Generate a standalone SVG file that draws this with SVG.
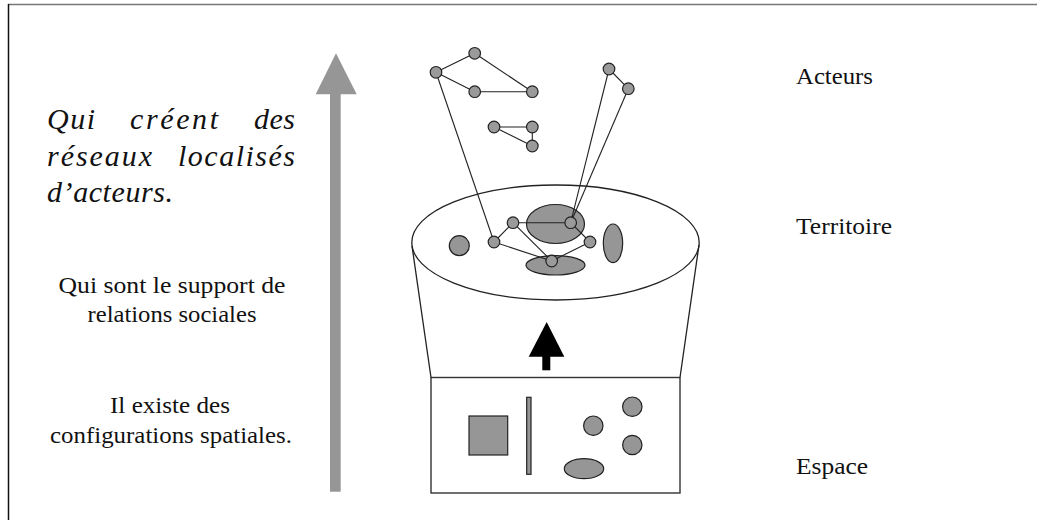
<svg xmlns="http://www.w3.org/2000/svg" width="1037" height="520" viewBox="0 0 1037 520">
  <style>
    .txt { font-family: "Liberation Serif", "DejaVu Serif", serif; fill: #111; }
    .lbl { font-size: 23px; }
    .side { font-size: 23px; text-anchor: middle; }
    .big { font-size: 30px; font-style: italic; }
    .node { fill: #9a9a9a; stroke: #222; stroke-width: 1.2; }
    .shape { fill: #969696; stroke: #222; stroke-width: 1.2; }
    .edge { stroke: #222; stroke-width: 1.1; fill: none; }
    .outline { fill: none; stroke: #222; stroke-width: 1.3; }
  </style>

  <!-- frame -->
  <line x1="8" y1="4.5" x2="1037" y2="4.5" stroke="#777" stroke-width="1.5"/>
  <line x1="8.5" y1="4" x2="8.5" y2="520" stroke="#111" stroke-width="1.5"/>

  <!-- rising grey arrow -->
  <g id="progress-arrow">
    <rect x="330" y="93" width="10.7" height="398.7" fill="#969696"/>
    <polygon points="336,53.3 315.7,94.3 356.7,94.3" fill="#969696"/>
  </g>

  <!-- left-hand captions: justified italic paragraph -->
  <g id="caption-reseaux" class="txt big">
    <text y="129"><tspan x="47" textLength="48" lengthAdjust="spacing">Qui</tspan> <tspan x="130" textLength="88" lengthAdjust="spacing">créent</tspan> <tspan x="254" textLength="41" lengthAdjust="spacing">des</tspan></text>
    <text y="165.5"><tspan x="47" textLength="105" lengthAdjust="spacing">réseaux</tspan> <tspan x="178" textLength="117" lengthAdjust="spacing">localisés</tspan></text>
    <text x="47" y="202" textLength="126" lengthAdjust="spacing">d’acteurs.</text>
  </g>
  <g id="caption-relations" class="txt side">
    <text x="172" y="293" textLength="227" lengthAdjust="spacingAndGlyphs">Qui sont le support de</text>
    <text x="172" y="321.5" textLength="169" lengthAdjust="spacingAndGlyphs">relations sociales</text>
  </g>
  <g id="caption-configurations" class="txt side">
    <text x="170" y="413" textLength="120" lengthAdjust="spacingAndGlyphs">Il existe des</text>
    <text x="171" y="443" textLength="242" lengthAdjust="spacingAndGlyphs">configurations spatiales.</text>
  </g>

  <!-- right-hand level labels -->
  <g id="label-acteurs" class="txt lbl"><text x="796" y="84" textLength="77" lengthAdjust="spacingAndGlyphs">Acteurs</text></g>
  <g id="label-territoire" class="txt lbl"><text x="796" y="234" textLength="96" lengthAdjust="spacingAndGlyphs">Territoire</text></g>
  <g id="label-espace" class="txt lbl"><text x="796" y="474" textLength="72" lengthAdjust="spacingAndGlyphs">Espace</text></g>

  <!-- espace: box with spatial configurations -->
  <g id="espace">
    <rect x="431" y="377.5" width="249" height="115.5" fill="#fff" stroke="#333" stroke-width="1.4"/>
    <rect x="469" y="416" width="38.7" height="39" class="shape"/>
    <rect x="526.7" y="397.3" width="4.3" height="77" class="shape"/>
    <circle cx="593.3" cy="425.7" r="9.7" class="shape"/>
    <circle cx="632.3" cy="406.7" r="9.7" class="shape"/>
    <circle cx="632.3" cy="445" r="9.7" class="shape"/>
    <ellipse cx="584" cy="468.7" rx="19.7" ry="10" class="shape"/>
  </g>

  <!-- black arrow from espace to territoire -->
  <g id="transition-arrow">
    <rect x="542.3" y="355" width="8" height="15.3" fill="#000"/>
    <polygon points="546.7,322 528.7,356.7 564.3,356.7" fill="#000"/>
  </g>

  <!-- territoire: cylinder top with places -->
  <g id="territoire">
    <line x1="412" y1="246" x2="431" y2="377.5" class="outline"/>
    <line x1="699" y1="245" x2="680" y2="377.5" class="outline"/>
    <ellipse cx="555.5" cy="242.5" rx="143.7" ry="57.5" class="outline"/>
    <circle cx="459.3" cy="245.7" r="10" class="shape"/>
    <ellipse cx="555.5" cy="224" rx="29" ry="19.5" class="shape"/>
    <ellipse cx="555.5" cy="265.3" rx="29.5" ry="9.7" class="shape"/>
    <ellipse cx="613" cy="243.3" rx="9.7" ry="19.3" class="shape"/>
  </g>

  <!-- links between actors -->
  <g id="connectors" class="edge">
    <!-- upper network -->
    <line x1="436" y1="72.3" x2="474.7" y2="53.3"/>
    <line x1="474.7" y1="53.3" x2="532.3" y2="91.7"/>
    <line x1="436" y1="72.3" x2="474.7" y2="91.7"/>
    <line x1="474.7" y1="91.7" x2="532.3" y2="91.7"/>
    <!-- triangle -->
    <line x1="494" y1="127" x2="532.3" y2="127"/>
    <line x1="532.3" y1="127" x2="532.3" y2="146"/>
    <line x1="494" y1="127" x2="532.3" y2="146"/>
    <!-- pair -->
    <line x1="609" y1="69" x2="628.3" y2="88.7"/>
    <!-- anchoring into the territory -->
    <line x1="436" y1="72.3" x2="494" y2="242"/>
    <line x1="609" y1="69" x2="570.7" y2="222.7"/>
    <line x1="628.3" y1="88.7" x2="570.7" y2="222.7"/>
    <!-- local network -->
    <line x1="494" y1="242" x2="513" y2="222.7"/>
    <line x1="513" y1="222.7" x2="570.7" y2="222.7"/>
    <line x1="513" y1="222.7" x2="551.7" y2="261"/>
    <line x1="494" y1="242" x2="551.7" y2="261"/>
    <line x1="570.7" y1="222.7" x2="590" y2="242"/>
    <line x1="590" y1="242" x2="551.7" y2="261"/>
  </g>

  <!-- actors -->
  <g id="actor-a"><circle cx="436" cy="72.3" r="5.8" class="node"/></g>
  <g id="actor-b"><circle cx="474.7" cy="53.3" r="5.8" class="node"/></g>
  <g id="actor-c"><circle cx="474.7" cy="91.7" r="5.8" class="node"/></g>
  <g id="actor-d"><circle cx="532.3" cy="91.7" r="5.8" class="node"/></g>
  <g id="actor-e"><circle cx="494" cy="127" r="5.8" class="node"/></g>
  <g id="actor-f"><circle cx="532.3" cy="127" r="5.8" class="node"/></g>
  <g id="actor-g"><circle cx="532.3" cy="146" r="5.8" class="node"/></g>
  <g id="actor-h"><circle cx="609" cy="69" r="5.8" class="node"/></g>
  <g id="actor-i"><circle cx="628.3" cy="88.7" r="5.8" class="node"/></g>
  <g id="actor-j"><circle cx="494" cy="242" r="5.8" class="node"/></g>
  <g id="actor-k"><circle cx="570.7" cy="222.7" r="5.8" class="node"/></g>
  <g id="actor-l"><circle cx="513" cy="222.7" r="5.8" class="node"/></g>
  <g id="actor-m"><circle cx="551.7" cy="261" r="5.8" class="node"/></g>
  <g id="actor-n"><circle cx="590" cy="242" r="5.8" class="node"/></g>
</svg>
